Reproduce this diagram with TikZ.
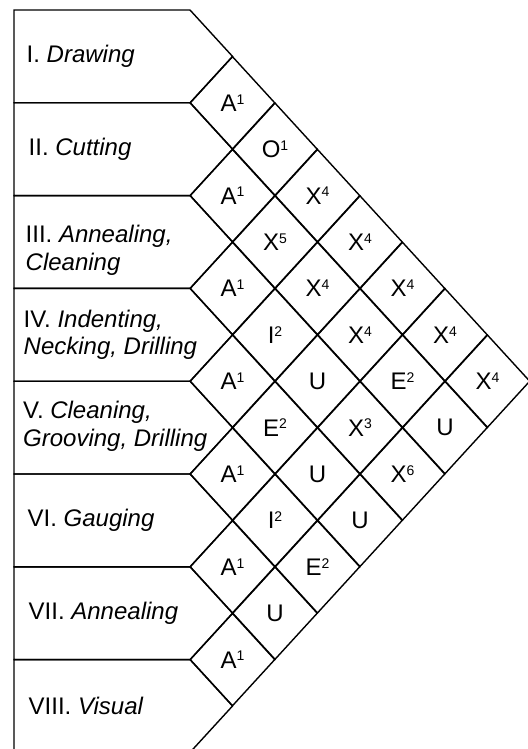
\documentclass[tikz,border=0pt]{standalone}
\usepackage{fontspec}
\setmainfont{Liberation Sans}
\usetikzlibrary{shapes.geometric}

\newcommand{\rank}[1]{\raisebox{3.6pt}{\fontsize{7}{7}\selectfont#1}}

\begin{document}
\begin{tikzpicture}[x=0.5pt,y=-0.5pt,line width=0.7pt,
	font=\fontsize{12}{13.8}\selectfont,
	rel/.style={draw,diamond,minimum width=42.5pt,minimum height=46.4pt,inner sep=0pt,text depth=0pt},
	dept/.style={anchor=west,align=left,inner sep=0pt}
	]
	\useasboundingbox (0,0) rectangle (527,749);
	
	\draw (14,10) -- (190,10) -- (232.5,56.4) -- (190,102.8) -- (14,102.8) -- cycle;
	\draw (14,102.8) -- (190,102.8) -- (232.5,149.2) -- (190,195.6) -- (14,195.6) -- cycle;
	\draw (14,195.6) -- (190,195.6) -- (232.5,242) -- (190,288.4) -- (14,288.4) -- cycle;
	\draw (14,288.4) -- (190,288.4) -- (232.5,334.8) -- (190,381.2) -- (14,381.2) -- cycle;
	\draw (14,381.2) -- (190,381.2) -- (232.5,427.6) -- (190,474) -- (14,474) -- cycle;
	\draw (14,474) -- (190,474) -- (232.5,520.4) -- (190,566.8) -- (14,566.8) -- cycle;
	\draw (14,566.8) -- (190,566.8) -- (232.5,613.2) -- (190,659.6) -- (14,659.6) -- cycle;
	\draw (14,659.6) -- (190,659.6) -- (232.5,706) -- (190,752.4) -- (14,752.4) -- cycle;
	
	\node[dept] (drawing) at (26,56.4) {I. \textit{Drawing}};
	\node[dept] (cutting) at (28,149.2) {II. \textit{Cutting}};
	\node[dept] (annealing) at (25,250) {III. \textit{Annealing,}\\\textit{Cleaning}};
	\node[dept] (indenting) at (23,334.8) {IV. \textit{Indenting,}\\\textit{Necking, Drilling}};
	\node[dept] (grooving) at (22.5,426) {V. \textit{Cleaning,}\\\textit{Grooving, Drilling}};
	\node[dept] (gauging) at (27,520.4) {VI. \textit{Gauging}};
	\node[dept] (reannealing) at (28,613.2) {VII. \textit{Annealing}};
	\node[dept] (visual) at (28,706) {VIII. \textit{Visual}};
	
	\node[rel] (d12) at (232.5,102.8) {A\rank{1}};
	\node[rel] (d23) at (232.5,195.6) {A\rank{1}};
	\node[rel] (d34) at (232.5,288.4) {A\rank{1}};
	\node[rel] (d45) at (232.5,381.2) {A\rank{1}};
	\node[rel] (d56) at (232.5,474) {A\rank{1}};
	\node[rel] (d67) at (232.5,566.8) {A\rank{1}};
	\node[rel] (d78) at (232.5,659.6) {A\rank{1}};
	
	\node[rel] (d13) at (275,149.2) {O\rank{1}};
	\node[rel] (d24) at (275,242) {X\rank{5}};
	\node[rel] (d35) at (275,334.8) {I\rank{2}};
	\node[rel] (d46) at (275,427.6) {E\rank{2}};
	\node[rel] (d57) at (275,520.4) {I\rank{2}};
	\node[rel] (d68) at (275,613.2) {U};
	
	\node[rel] (d14) at (317.5,195.6) {X\rank{4}};
	\node[rel] (d25) at (317.5,288.4) {X\rank{4}};
	\node[rel] (d36) at (317.5,381.2) {U};
	\node[rel] (d47) at (317.5,474) {U};
	\node[rel] (d58) at (317.5,566.8) {E\rank{2}};
	
	\node[rel] (d15) at (360,242) {X\rank{4}};
	\node[rel] (d26) at (360,334.8) {X\rank{4}};
	\node[rel] (d37) at (360,427.6) {X\rank{3}};
	\node[rel] (d48) at (360,520.4) {U};
	
	\node[rel] (d16) at (402.5,288.4) {X\rank{4}};
	\node[rel] (d27) at (402.5,381.2) {E\rank{2}};
	\node[rel] (d38) at (402.5,474) {X\rank{6}};
	
	\node[rel] (d17) at (445,334.8) {X\rank{4}};
	\node[rel] (d28) at (445,427.6) {U};
	
	\node[rel] (d18) at (487.5,381.2) {X\rank{4}};
	
\end{tikzpicture}
\end{document}
